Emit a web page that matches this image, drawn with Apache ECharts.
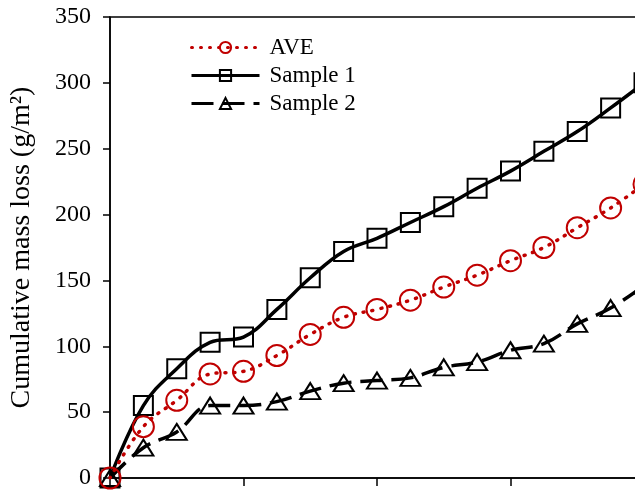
<!DOCTYPE html>
<html>
<head>
<meta charset="utf-8">
<script src="https://cdn.jsdelivr.net/npm/echarts@6/dist/echarts.min.js"></script>
<style>
  html, body { margin: 0; padding: 0; background: #fff; }
  #main { width: 635px; height: 493px; }
</style>
</head>
<body>
<div id="main"></div>
<script>
var chart = echarts.init(document.getElementById('main'));

// x positions (cycle index) and cumulative mass loss, g/m2
var xVals = [0, 1, 2, 3, 4, 5, 6, 7, 8, 9, 10, 11, 12, 13, 14, 15, 16];
var ave = [0, 39, 59, 79, 81, 93, 109, 122, 128, 135, 145, 154, 165, 175, 190, 205, 223];
var sample1 = [0, 55, 83, 103, 107, 128, 152, 172, 182, 194, 206, 220, 233, 248, 263, 281, 300];
var sample2 = [0, 23, 35, 55, 55, 58, 66, 72, 74, 76, 84, 88, 97, 102, 117, 129, 146];
var yTicks = [0, 50, 100, 150, 200, 250, 300, 350];

var font = '"Liberation Serif", "Times New Roman", serif';

function pairs(ys) {
  var out = [];
  for (var i = 0; i < ys.length; i++) out.push([xVals[i], ys[i]]);
  return out;
}

var option = {
  backgroundColor: '#fff',
  animation: false,
  grid: {
    left: 110,
    top: 17,
    height: 461,
    width: 534,
    outerBoundsMode: 'none',
    show: true,
    borderColor: '#000',
    borderWidth: 1.5
  },
  legend: {
    orient: 'vertical',
    left: 190,
    top: 36,
    padding: 0,
    itemWidth: 68,
    itemHeight: 14,
    itemGap: 5,
    lineStyle: { width: 3 },
    textStyle: { fontFamily: font, fontSize: 23, lineHeight: 23, color: '#000', padding: [0, 0, 0, 5] },
    data: ['AVE', 'Sample 1', 'Sample 2']
  },
  xAxis: {
    type: 'value',
    min: 0,
    max: 16,
    interval: 4,
    axisLine: { lineStyle: { color: '#000', width: 1.5 } },
    axisTick: { show: true, inside: false, length: 8, lineStyle: { color: '#000', width: 1.5 } },
    axisLabel: { show: false },
    splitLine: { show: false }
  },
  yAxis: {
    type: 'value',
    min: yTicks[0],
    max: yTicks[yTicks.length - 1],
    interval: 50,
    name: 'Cumulative mass loss (g/m²)',
    nameLocation: 'middle',
    nameGap: 74,
    nameTextStyle: { fontFamily: font, fontSize: 28, color: '#000' },
    axisLine: { show: true, lineStyle: { color: '#000', width: 1.5 } },
    axisTick: { show: true, inside: false, length: 7, lineStyle: { color: '#000', width: 1.5 } },
    axisLabel: { fontFamily: font, fontSize: 24, color: '#000', margin: 19 },
    splitLine: { show: false }
  },
  series: [
    {
      name: 'AVE',
      type: 'line',
      data: pairs(ave),
      smooth: 0.4,
      symbol: 'circle',
      symbolSize: 21,
      itemStyle: { color: 'rgba(0,0,0,0)', borderColor: '#C00000', borderWidth: 2 },
      lineStyle: { color: '#C00000', width: 3.5, type: [1, 8], cap: 'round' },
      z: 3
    },
    {
      name: 'Sample 1',
      type: 'line',
      data: pairs(sample1),
      smooth: 0.4,
      symbol: 'rect',
      symbolSize: 19,
      itemStyle: { color: 'rgba(0,0,0,0)', borderColor: '#000', borderWidth: 2 },
      lineStyle: { color: '#000', width: 3.5 },
      z: 2
    },
    {
      name: 'Sample 2',
      type: 'line',
      data: pairs(sample2),
      smooth: 0.4,
      symbol: 'triangle',
      symbolSize: [20, 16],
      itemStyle: { color: 'rgba(0,0,0,0)', borderColor: '#000', borderWidth: 2 },
      lineStyle: { color: '#000', width: 3.5, type: [22, 9] },
      z: 2
    }
  ]
};

chart.setOption(option);
</script>
</body>
</html>
